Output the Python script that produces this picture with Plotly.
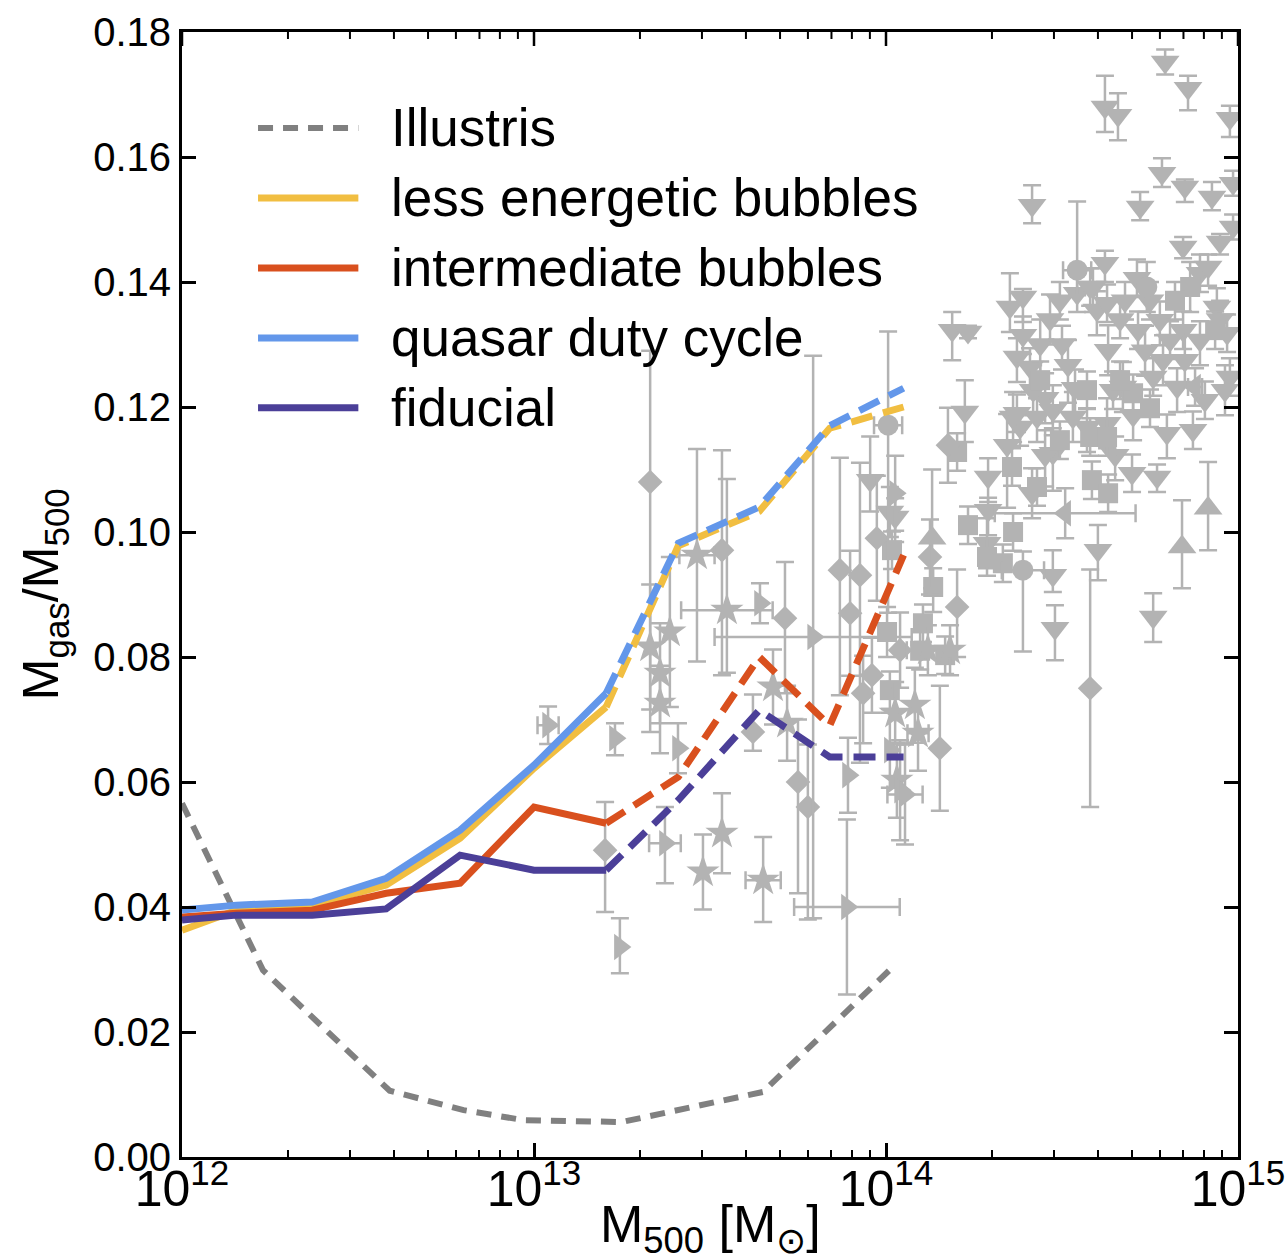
import numpy as np
import plotly.graph_objects as go

# ---------------------------------------------------------------------------
# Simulated gas fractions, M_gas/M_500, in bins of log10(M_500 / M_sun)
# ---------------------------------------------------------------------------
sim_logm = [12.0, 12.155, 12.37, 12.58, 12.79, 13.0, 13.205, 13.41, 13.64, 13.84, 14.05]
less_energetic = [0.0363, 0.0395, 0.0403, 0.0435, 0.0510, 0.0622, 0.0720, 0.0978, 0.1033, 0.1166, 0.1200]
intermediate = [0.0384, 0.0390, 0.0395, 0.0422, 0.0438, 0.0560, 0.0534, 0.0608, 0.0800, 0.0690, 0.0963]
quasar_duty = [0.0395, 0.0403, 0.0408, 0.0446, 0.0523, 0.0627, 0.0742, 0.0982, 0.1040, 0.1170, 0.1230]
fiducial = [0.0379, 0.0387, 0.0387, 0.0397, 0.0483, 0.0459, 0.0459, 0.0571, 0.0715, 0.0640, 0.0640]
# bins above this mass are drawn dashed (few haloes per bin)
dashed_from_logm = 13.205

illustris_logm = [12.0, 12.23, 12.59, 12.80, 12.97, 13.25, 13.65, 14.01]
illustris_frac = [0.0566, 0.0299, 0.0106, 0.0075, 0.0059, 0.0056, 0.0104, 0.0299]

# ---------------------------------------------------------------------------
# Observed groups and clusters: (log10 M500, f_gas, err_up, err_down[, x err in dex])
# ---------------------------------------------------------------------------
obs_tri_down = [
    (14.793, 0.1752, 0.002, 0.002), (14.858, 0.1710, 0.002, 0.0035), (14.622, 0.1680, 0.005, 0.004),
    (14.659, 0.1667, 0.0035, 0.004), (14.977, 0.1662, 0.002, 0.003), (14.784, 0.1574, 0.0024, 0.0022),
    (14.849, 0.1552, 0.0012, 0.0024), (14.926, 0.1536, 0.0024, 0.0021), (14.986, 0.1558, 0.002, 0.002),
    (14.415, 0.1523, 0.0032, 0.0029), (14.722, 0.1520, 0.0024, 0.0021), (14.844, 0.1456, 0.0016, 0.0018),
    (14.949, 0.1464, 0.0013, 0.002), (14.986, 0.1488, 0.002, 0.002), (14.352, 0.1360, 0.0054, 0.004),
    (14.389, 0.1376, 0.0013, 0.004), (14.188, 0.1323, 0.0029, 0.0048), (14.233, 0.1320, 0.001, 0.001),
    (14.389, 0.1315, 0.003, 0.003), (14.372, 0.1280, 0.003, 0.004), (14.224, 0.1192, 0.0051, 0.0048),
    (14.344, 0.1139, 0.005, 0.010), (14.361, 0.1184, 0.004, 0.004), (14.429, 0.1184, 0.003, 0.004),
    (14.381, 0.1168, 0.003, 0.003), (14.290, 0.1088, 0.003, 0.004), (14.290, 0.1035, 0.002, 0.004),
    (14.287, 0.0982, 0.004, 0.004), (14.415, 0.1062, 0.004, 0.004), (14.474, 0.0931, 0.004, 0.0027),
    (14.480, 0.0846, 0.0037, 0.0051), (14.474, 0.1126, 0.004, 0.006), (14.517, 0.1267, 0.004, 0.006),
    (14.602, 0.0971, 0.004, 0.0048), (14.699, 0.1094, 0.003, 0.003), (14.770, 0.1088, 0.002, 0.0024),
    (14.759, 0.0864, 0.0038, 0.004), (14.798, 0.1158, 0.003, 0.004), (14.872, 0.1163, 0.003, 0.003),
    (14.622, 0.1430, 0.002, 0.003), (14.713, 0.1406, 0.003, 0.003), (14.588, 0.1392, 0.003, 0.004),
    (14.543, 0.1382, 0.003, 0.003), (14.892, 0.1414, 0.003, 0.003), (14.915, 0.1424, 0.002, 0.003),
    (14.940, 0.1360, 0.003, 0.003), (14.969, 0.1318, 0.003, 0.003), (14.599, 0.1355, 0.003, 0.004),
    (14.631, 0.1291, 0.004, 0.004), (14.716, 0.1323, 0.003, 0.003), (14.778, 0.1339, 0.003, 0.004),
    (14.844, 0.1323, 0.003, 0.003), (14.787, 0.1275, 0.004, 0.004), (14.759, 0.1248, 0.003, 0.003),
    (14.827, 0.1232, 0.003, 0.004), (14.673, 0.1232, 0.004, 0.004), (14.645, 0.1227, 0.003, 0.003),
    (14.571, 0.1168, 0.003, 0.004), (14.628, 0.1174, 0.004, 0.004), (14.977, 0.1248, 0.003, 0.003),
    (14.026, 0.1024, 0.003, 0.004), (13.955, 0.1083, 0.007, 0.005), (14.011, 0.1032, 0.004, 0.004),
    (14.452, 0.1214, 0.004, 0.004), (14.537, 0.1230, 0.003, 0.004), (14.438, 0.1300, 0.004, 0.005),
    (14.679, 0.1370, 0.003, 0.003), (14.409, 0.1264, 0.003, 0.004), (14.418, 0.1227, 0.004, 0.004),
    (14.628, 0.1366, 0.003, 0.003), (14.580, 0.1392, 0.003, 0.003), (14.474, 0.1195, 0.004, 0.004),
    (14.372, 0.1190, 0.003, 0.003), (14.531, 0.1184, 0.004, 0.004), (14.466, 0.1340, 0.004, 0.004),
    (14.500, 0.1300, 0.003, 0.004), (14.665, 0.1340, 0.003, 0.003), (14.736, 0.1290, 0.004, 0.004),
    (14.807, 0.1307, 0.003, 0.003), (14.892, 0.1307, 0.003, 0.004), (14.949, 0.1340, 0.003, 0.003),
    (14.849, 0.1275, 0.004, 0.004), (14.702, 0.1187, 0.003, 0.004), (14.906, 0.1211, 0.003, 0.003),
    (14.963, 0.1227, 0.004, 0.004), (14.452, 0.1123, 0.004, 0.005), (14.651, 0.1123, 0.003, 0.004),
    (14.494, 0.1370, 0.003, 0.003), (14.750, 0.1370, 0.003, 0.003),
]

obs_square = [
    (14.202, 0.1128, 0.003, 0.003), (14.134, 0.0912, 0.003, 0.004), (14.105, 0.0854, 0.003, 0.003),
    (14.003, 0.0840, 0.004, 0.004), (14.233, 0.1011, 0.003, 0.003), (14.287, 0.0960, 0.003, 0.003),
    (14.332, 0.0950, 0.003, 0.003), (14.361, 0.1000, 0.003, 0.003), (14.358, 0.1104, 0.003, 0.003),
    (14.429, 0.1072, 0.003, 0.003), (14.585, 0.1083, 0.003, 0.003), (14.631, 0.1062, 0.003, 0.003),
    (14.580, 0.1152, 0.003, 0.003), (14.628, 0.1152, 0.003, 0.003), (14.864, 0.1392, 0.004, 0.004),
    (14.571, 0.1227, 0.003, 0.003), (14.702, 0.1222, 0.003, 0.003), (14.750, 0.1198, 0.003, 0.003),
    (14.017, 0.0971, 0.003, 0.003), (14.011, 0.0747, 0.003, 0.003), (14.097, 0.0810, 0.003, 0.003),
    (14.168, 0.0803, 0.003, 0.003), (14.438, 0.1243, 0.003, 0.003), (14.665, 0.1243, 0.003, 0.003),
    (14.821, 0.1370, 0.003, 0.003), (14.935, 0.1323, 0.003, 0.003), (14.494, 0.1147, 0.003, 0.003),
]

obs_diamond = [
    (13.330, 0.1080, 0.021, 0.040), (13.534, 0.0971, 0.016, 0.020), (13.869, 0.0939, 0.018, 0.020),
    (13.926, 0.0931, 0.018, 0.030), (13.898, 0.0870, 0.010, 0.010), (13.713, 0.0862, 0.009, 0.012),
    (13.974, 0.0990, 0.010, 0.010), (14.040, 0.0811, 0.006, 0.006), (14.176, 0.1139, 0.006, 0.006),
    (14.125, 0.0960, 0.006, 0.006), (14.202, 0.0880, 0.006, 0.008), (14.153, 0.0654, 0.010, 0.010),
    (14.580, 0.0750, 0.019, 0.019), (13.202, 0.0491, 0.0077, 0.0099), (13.750, 0.0600, 0.010, 0.0178),
    (13.778, 0.0560, 0.010, 0.018), (13.622, 0.0680, 0.006, 0.003), (13.960, 0.0771, 0.006, 0.006),
    (13.935, 0.0742, 0.006, 0.008),
]

obs_star = [
    (13.463, 0.0963, 0.017, 0.017, 0.05), (13.548, 0.0875, 0.021, 0.010, 0.13),
    (13.330, 0.0816, 0.010, 0.010, 0.0), (13.386, 0.0840, 0.012, 0.012, 0.0),
    (13.358, 0.0774, 0.008, 0.008, 0.0), (13.358, 0.0726, 0.006, 0.008, 0.0),
    (13.480, 0.0456, 0.006, 0.006, 0.0), (13.534, 0.0518, 0.0064, 0.0064, 0.0),
    (13.651, 0.0443, 0.0069, 0.0067, 0.05), (13.719, 0.0694, 0.006, 0.006, 0.0),
    (13.679, 0.0752, 0.006, 0.006, 0.0), (14.031, 0.0603, 0.006, 0.006, 0.0),
    (14.182, 0.0811, 0.004, 0.004, 0.0), (14.119, 0.0811, 0.004, 0.004, 0.06),
    (14.082, 0.0723, 0.006, 0.006, 0.0), (14.026, 0.0710, 0.005, 0.005, 0.0),
    (14.091, 0.0678, 0.005, 0.006, 0.03),
]

obs_tri_right = [
    (13.230, 0.0670, 0.0024, 0.0027, 0.0), (13.409, 0.0654, 0.004, 0.004, 0.0),
    (13.372, 0.0502, 0.0058, 0.0064, 0.045), (13.244, 0.0336, 0.0046, 0.0042, 0.0),
    (13.889, 0.0400, 0.014, 0.014, 0.15), (13.642, 0.0886, 0.0032, 0.0032, 0.0),
    (13.793, 0.0832, 0.045, 0.045, 0.28), (14.026, 0.1062, 0.006, 0.006, 0.0),
    (14.011, 0.0651, 0.006, 0.006, 0.0), (14.040, 0.0587, 0.008, 0.008, 0.0),
    (13.892, 0.0611, 0.006, 0.006, 0.0), (13.040, 0.0691, 0.003, 0.003, 0.03),
    (14.054, 0.0580, 0.008, 0.008, 0.05),
]

obs_tri_left = [
    (14.509, 0.1030, 0.004, 0.004, 0.20), (14.878, 0.1232, 0.003, 0.003, 0.02),
]

obs_tri_up = [
    (14.131, 0.0990, 0.011, 0.008), (14.841, 0.0976, 0.0075, 0.0066), (14.915, 0.1038, 0.0074, 0.0067),
]

obs_circle = [
    (14.006, 0.1171, 0.015, 0.030, 0.04), (14.389, 0.0939, 0.003, 0.013, 0.06),
    (14.543, 0.1419, 0.011, 0.004, 0.04), (14.741, 0.1392, 0.004, 0.004, 0.0),
]

GREY = "#b3b3b3"
FONT = "Liberation Sans, Arial, sans-serif"

COLORS = {
    "Illustris": "#808080",
    "less energetic bubbles": "#f1be41",
    "intermediate bubbles": "#d9501e",
    "quasar duty cycle": "#6397ea",
    "fiducial": "#4b3f98",
}

X_RANGE_LOG = [12, 15]
Y_RANGE = [0, 0.18]
PLOT_HEIGHT_PX = 1260 - 32 - 103

fig = go.Figure()


def add_obs(rows, symbol, size):
    rows = np.array(rows, dtype=float)
    mass = 10 ** rows[:, 0]
    kw = {}
    if rows.shape[1] > 4:
        dex = rows[:, 4]
        kw["error_x"] = dict(type="data", symmetric=False,
                             array=mass * (10 ** dex - 1),
                             arrayminus=mass * (1 - 10 ** -dex),
                             color=GREY, thickness=2.5, width=9)
    fig.add_trace(go.Scatter(
        x=mass, y=rows[:, 1], mode="markers",
        marker=dict(symbol=symbol, size=size, color=GREY, line=dict(width=0)),
        error_y=dict(type="data", symmetric=False, array=rows[:, 2], arrayminus=rows[:, 3],
                     color=GREY, thickness=2.5, width=9),
        showlegend=False, hoverinfo="skip", **kw))


add_obs(obs_tri_down, "triangle-down", 25)
add_obs(obs_square, "square", 20)
add_obs(obs_diamond, "diamond", 19)
add_obs(obs_star, "star", 25)
add_obs(obs_tri_right, "triangle-right", 23)
add_obs(obs_tri_left, "triangle-left", 23)
add_obs(obs_tri_up, "triangle-up", 25)
add_obs(obs_circle, "circle", 21)

# Illustris reference curve
fig.add_trace(go.Scatter(
    x=10 ** np.array(illustris_logm), y=illustris_frac, mode="lines",
    line=dict(color=COLORS["Illustris"], width=6, dash="15px,10px"),
    showlegend=False, hoverinfo="skip"))

# Simulation runs: solid in well-sampled bins, dashed above
sim_runs = [
    ("less energetic bubbles", less_energetic),
    ("intermediate bubbles", intermediate),
    ("quasar duty cycle", quasar_duty),
    ("fiducial", fiducial),
]
logm = np.array(sim_logm)
solid = logm <= dashed_from_logm + 1e-9
dashed = logm >= dashed_from_logm - 1e-9
for name, frac in sim_runs:
    frac = np.array(frac)
    fig.add_trace(go.Scatter(x=10 ** logm[solid], y=frac[solid], mode="lines",
                             line=dict(color=COLORS[name], width=7),
                             showlegend=False, hoverinfo="skip"))
    fig.add_trace(go.Scatter(x=10 ** logm[dashed], y=frac[dashed], mode="lines",
                             line=dict(color=COLORS[name], width=7, dash="22px,11px"),
                             showlegend=False, hoverinfo="skip"))

# Tick marks hanging from the top frame: decades (long) and 2..9 sub-decades (short)
y_per_px = (Y_RANGE[1] - Y_RANGE[0]) / PLOT_HEIGHT_PX
for is_major, tick_px, tick_w in ((True, 14, 2.5), (False, 7, 2.0)):
    tx, ty = [], []
    for d in range(X_RANGE_LOG[0], X_RANGE_LOG[1] + 1):
        mults = [1] if is_major else ([] if d == X_RANGE_LOG[1] else range(2, 10))
        for m in mults:
            tx += [m * 10.0 ** d, m * 10.0 ** d, None]
            ty += [Y_RANGE[1], Y_RANGE[1] - tick_px * y_per_px, None]
    fig.add_trace(go.Scatter(x=tx, y=ty, mode="lines", cliponaxis=False,
                             line=dict(color="black", width=tick_w),
                             showlegend=False, hoverinfo="skip"))

# Legend drawn in paper coordinates with long line samples
legend_rows = ["Illustris", "less energetic bubbles", "intermediate bubbles",
               "quasar duty cycle", "fiducial"]
row_y0, row_dy = 0.9147, 0.0622
shapes, annotations = [], []
for i, name in enumerate(legend_rows):
    yy = row_y0 - i * row_dy
    dash = "15px,10px" if name == "Illustris" else "solid"
    width = 6 if name == "Illustris" else 7
    shapes.append(dict(type="line", xref="paper", yref="paper", x0=0.072, x1=0.167, y0=yy, y1=yy,
                       line=dict(color=COLORS[name], width=width, dash=dash)))
    annotations.append(dict(xref="paper", yref="paper", x=0.196, y=yy, text=name,
                            showarrow=False, xanchor="left", yanchor="middle",
                            font=dict(family=FONT, size=53, color="black")))

# axis titles
annotations.append(dict(xref="paper", yref="paper", x=0.5, y=-0.063,
                        text="M<sub>500</sub> [M<sub>⊙</sub>]", showarrow=False,
                        xanchor="center", yanchor="middle",
                        font=dict(family=FONT, size=52, color="black")))
annotations.append(dict(xref="paper", yref="paper", x=-0.130, y=0.5, textangle=-90,
                        text="M<sub>gas</sub>/M<sub>500</sub>", showarrow=False,
                        xanchor="center", yanchor="middle",
                        font=dict(family=FONT, size=50, color="black")))

axis_common = dict(showline=True, linecolor="black", linewidth=3,
                   ticks="inside", tickcolor="black", tickwidth=2.5, ticklen=14,
                   showgrid=False, zeroline=False, automargin=False,
                   tickfont=dict(family=FONT, size=40, color="black"))

fig.update_layout(
    width=1286, height=1260,
    margin=dict(l=182, r=48, t=32, b=103),
    paper_bgcolor="white", plot_bgcolor="white",
    shapes=shapes, annotations=annotations,
    xaxis=dict(type="log", range=X_RANGE_LOG, dtick=1, exponentformat="power", mirror=True,
               ticklabelstandoff=-12,
               minor=dict(ticks="inside", ticklen=7, tickwidth=2, tickcolor="black", dtick="D1"),
               **axis_common),
    yaxis=dict(range=Y_RANGE, dtick=0.02, tickformat=".2f", mirror="allticks",
               **axis_common),
)

fig.write_html("out.html")
